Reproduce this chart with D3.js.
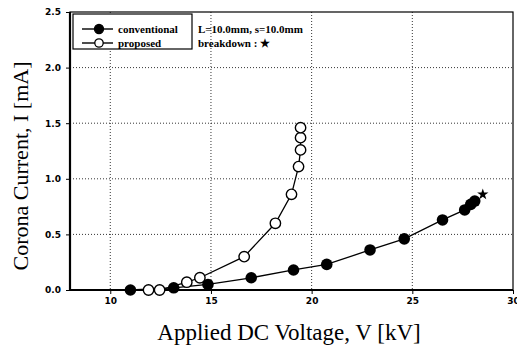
<!DOCTYPE html>
<html>
<head>
<meta charset="utf-8">
<script src="https://cdn.jsdelivr.net/npm/d3@7"></script>
<style>
  body { margin: 0; background: #fff; }
  .tick text { font-family: "DejaVu Sans", sans-serif; font-weight: bold; font-size: 9px; }
  .grid line { stroke: #000; stroke-dasharray: 1,2; stroke-width: 0.8; }
</style>
</head>
<body>
<div id="chart"></div>
<script>
// --- data ---
const convVoltage = [11.0, 13.15, 14.85, 17.0, 19.1, 20.75, 22.9, 24.6, 26.5, 27.6, 27.9, 28.1];
const convCurrent = [0.0, 0.02, 0.05, 0.11, 0.18, 0.23, 0.36, 0.46, 0.63, 0.72, 0.77, 0.80];
const propVoltage = [11.9, 12.45, 13.8, 14.45, 16.65, 18.2, 19.0, 19.35, 19.45, 19.45, 19.45];
const propCurrent = [0.0, 0.0, 0.07, 0.11, 0.30, 0.60, 0.86, 1.11, 1.26, 1.37, 1.46];
const breakdown = [28.5, 0.86];
const xTicks = [10, 15, 20, 25, 30];
const yTicks = [0.0, 0.5, 1.0, 1.5, 2.0, 2.5];

const W = 517, H = 349;
const margin = { top: 12, right: 4, bottom: 59, left: 70 };
const width = W - margin.left - margin.right;
const height = H - margin.top - margin.bottom;

const svg = d3.select('#chart').append('svg')
  .attr('width', W).attr('height', H);

const g = svg.append('g')
  .attr('transform', `translate(${margin.left},${margin.top})`);

const x = d3.scaleLinear().domain([8, 30]).range([0, width]);
const y = d3.scaleLinear().domain([0, 2.5]).range([height, 0]);

// grid
g.append('g').attr('class', 'grid')
  .selectAll('line').data(xTicks.filter(d => d > 8 && d < 30))
  .join('line')
  .attr('x1', d => x(d)).attr('x2', d => x(d))
  .attr('y1', 0).attr('y2', height);
g.append('g').attr('class', 'grid')
  .selectAll('line').data(yTicks.filter(d => d > 0 && d < 2.5))
  .join('line')
  .attr('x1', 0).attr('x2', width)
  .attr('y1', d => y(d)).attr('y2', d => y(d));

// axes
const xAxis = d3.axisBottom(x).tickValues(xTicks).tickSize(4).tickPadding(4);
const yAxis = d3.axisLeft(y).tickValues(yTicks).tickFormat(d3.format('.1f')).tickSize(4).tickPadding(5);

g.append('g').attr('transform', `translate(0,${height})`).call(xAxis)
  .call(a => a.select('.domain').remove());
g.append('g').call(yAxis)
  .call(a => a.select('.domain').remove());

// frame
g.append('rect')
  .attr('width', width).attr('height', height)
  .attr('fill', 'none').attr('stroke', '#000').attr('stroke-width', 1.2);
g.append('line').attr('x1', 0).attr('x2', 0).attr('y1', 0).attr('y2', height)
  .attr('stroke', '#000').attr('stroke-width', 2.2);
g.append('line').attr('x1', 0).attr('x2', width).attr('y1', height).attr('y2', height)
  .attr('stroke', '#000').attr('stroke-width', 2.2);

// series
const line = d3.line().x(d => x(d[0])).y(d => y(d[1]));
const conv = convVoltage.map((v, i) => [v, convCurrent[i]]);
const prop = propVoltage.map((v, i) => [v, propCurrent[i]]);

g.append('path').datum(conv).attr('d', line)
  .attr('fill', 'none').attr('stroke', '#000').attr('stroke-width', 1.3);
g.append('path').datum(prop).attr('d', line)
  .attr('fill', 'none').attr('stroke', '#000').attr('stroke-width', 1.3);

g.selectAll('.conv-dot').data(conv).join('circle')
  .attr('class', 'conv-dot')
  .attr('cx', d => x(d[0])).attr('cy', d => y(d[1]))
  .attr('r', 5.8).attr('fill', '#000');

g.selectAll('.prop-dot').data(prop).join('circle')
  .attr('class', 'prop-dot')
  .attr('cx', d => x(d[0])).attr('cy', d => y(d[1]))
  .attr('r', 5.2).attr('fill', '#fff').attr('stroke', '#000').attr('stroke-width', 1.4);

// breakdown star
g.append('path')
  .attr('d', d3.symbol(d3.symbolStar, 40)())
  .attr('transform', `translate(${x(breakdown[0])},${y(breakdown[1])})`)
  .attr('fill', '#000');

// legend
const leg = g.append('g').attr('transform', 'translate(3,2)');
leg.append('rect').attr('width', 119).attr('height', 35)
  .attr('fill', '#fff').attr('stroke', '#000').attr('stroke-width', 1.2);
const legItems = [
  { label: 'conventional', fill: '#000', r: 4.5 },
  { label: 'proposed', fill: '#fff', r: 4.2 }
];
legItems.forEach((d, i) => {
  const ly = 15 + i * 14;
  leg.append('line').attr('x1', 9).attr('x2', 40).attr('y1', ly).attr('y2', ly)
    .attr('stroke', '#000').attr('stroke-width', 1.4);
  leg.append('circle').attr('cx', 26).attr('cy', ly).attr('r', d.r)
    .attr('fill', d.fill).attr('stroke', '#000').attr('stroke-width', 1.3);
  leg.append('text').attr('x', 45).attr('y', ly + 3.5)
    .attr('font-family', 'Liberation Serif, serif').attr('font-weight', 'bold')
    .attr('font-size', 11).text(d.label);
});

// annotation
const ann = g.append('g').attr('transform', 'translate(128,21)');
ann.append('text').attr('font-family', 'Liberation Serif, serif').attr('font-weight', 'bold')
  .attr('font-size', 11).text('L=10.0mm, s=10.0mm');
ann.append('text').attr('y', 14).attr('font-family', 'Liberation Serif, serif').attr('font-weight', 'bold')
  .attr('font-size', 11).text('breakdown : \u2605');

// axis titles
svg.append('text')
  .attr('x', 289).attr('y', 340)
  .attr('text-anchor', 'middle')
  .attr('font-family', 'Liberation Serif, serif').attr('font-size', 23)
  .text('Applied DC Voltage, V [kV]');
svg.append('text')
  .attr('transform', 'translate(28,166) rotate(-90)')
  .attr('text-anchor', 'middle')
  .attr('font-family', 'Liberation Serif, serif').attr('font-size', 22)
  .text('Corona Current, I [mA]');
</script>
</body>
</html>
